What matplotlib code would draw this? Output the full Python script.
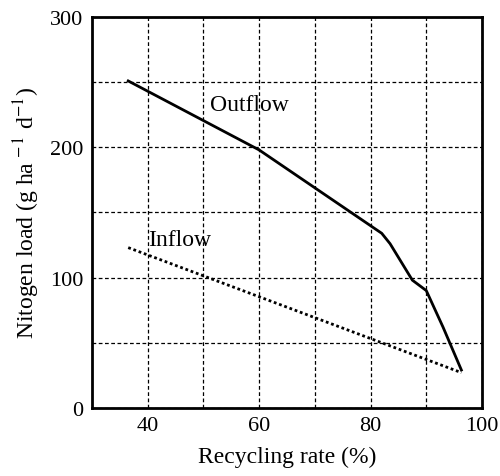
import matplotlib.pyplot as plt

plt.rcParams['font.family'] = ['Liberation Serif', 'DejaVu Serif']
plt.rcParams['mathtext.fontset'] = 'stix'

# Outflow / inflow nitrogen load vs recycling rate
outflow_rate = [36.5, 60, 82, 83.5, 85.5, 87.5, 90, 93, 96.3]
outflow_load = [251, 198, 134, 126, 112, 98, 90, 62, 29]
inflow_rate = [36.5, 96.3]
inflow_load = [123, 27]

fig = plt.figure(figsize=(5, 4.77), dpi=100)
ax = fig.add_axes([0.184, 0.143, 0.78, 0.819])

ax.plot(outflow_rate, outflow_load, color='black', linewidth=2)
ax.plot(inflow_rate, inflow_load, color='black', linewidth=2, linestyle=(0, (1, 1)))

ax.text(51.2, 233, 'Outflow', fontsize=17, ha='left', va='center')
ax.text(40.1, 129, 'Inflow', fontsize=17, ha='left', va='center')

ax.set_xlim(30, 100)
ax.set_ylim(0, 300)
ax.set_xticks([40, 60, 80, 100])
ax.set_yticks([0, 100, 200, 300])
ax.set_xticks(range(40, 100, 10), minor=True)
ax.set_yticks(range(50, 300, 50), minor=True)
ax.tick_params(which='both', length=0, labelsize=16, pad=6)
ax.grid(True, which='both', color='black', linestyle=(0, (3, 2)), linewidth=0.9)

for s in ax.spines.values():
    s.set_linewidth(2)

ax.set_xlabel('Recycling rate (%)', fontsize=17, labelpad=8)
ax.set_ylabel('Nitogen load (g ha$^{\\,-1}$ d$^{-1}$)', fontsize=17, labelpad=6)

fig.savefig('out.png', dpi=100)
